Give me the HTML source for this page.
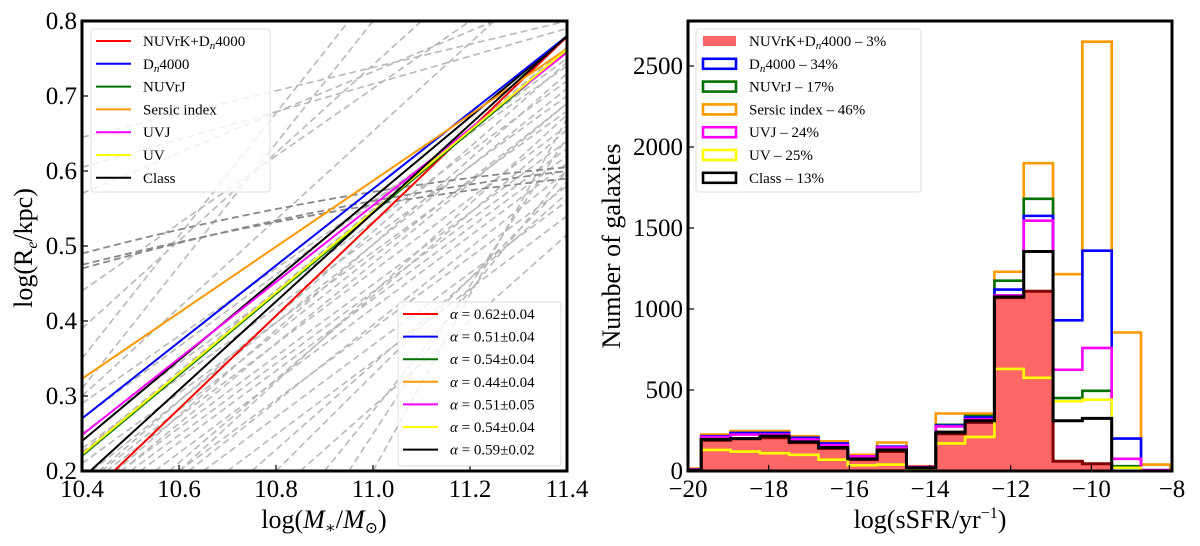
<!DOCTYPE html>
<html><head><meta charset="utf-8">
<style>
html,body{margin:0;padding:0;background:#fff;}
svg{display:block;font-family:"Liberation Serif","DejaVu Serif",serif;}
</style></head>
<body>
<svg id="fig" width="1200" height="546" viewBox="0 0 1200 546" xmlns="http://www.w3.org/2000/svg"></svg>
<script>
// ---- Left panel data ----
const fitNames = ["NUVrK+Dn4000","Dn4000","NUVrJ","Sersic index","UVJ","UV","Class"];
const fitColors = ["#ff0000","#0000ff","#007000","#ff9900","#ff00ff","#ffff00","#000000"];
const fitAlpha = [0.62,0.51,0.54,0.44,0.51,0.54,0.59];
const fitAlphaErr = ["0.04","0.04","0.04","0.04","0.05","0.04","0.02"];
const fitAt11p4 = [0.779,0.780,0.760,0.763,0.758,0.762,0.780];
const extraBlackLeft = 0.24, extraBlackRight = 0.78;
// gray dashed individual relations: [x1,y1,x2,y2]
const grayLines = [
 [10.4,0.57,11.25,0.80],[10.4,0.605,11.4,0.79],[10.4,0.645,11.4,0.80],[10.4,0.31,11.0,0.80],
 [10.4,0.35,10.95,0.80],[10.4,0.30,11.25,0.80],[10.4,0.29,11.4,0.74],[10.4,0.25,11.4,0.72],
 [10.4,0.23,11.4,0.70],[10.4,0.21,11.4,0.68],[10.45,0.2,11.4,0.66],[10.5,0.2,11.4,0.63],
 [10.55,0.2,11.4,0.61],[10.6,0.2,11.4,0.58],[10.7,0.2,11.4,0.54],[10.85,0.2,11.4,0.515],
 [10.4,0.18,11.4,0.745],[10.4,0.16,11.4,0.73],[10.5,0.21,11.4,0.69],[10.42,0.2,11.4,0.71],
 [10.4,0.39,11.1,0.80],[10.4,0.44,11.2,0.80],[10.65,0.2,11.4,0.56],[10.75,0.2,11.4,0.57],
 [10.58,0.2,11.4,0.655],[10.48,0.2,11.4,0.64],[10.4,0.27,11.4,0.75],[10.9,0.2,11.4,0.60],
 [10.95,0.2,11.4,0.645],[11.0,0.2,11.4,0.67],[10.4,0.225,11.4,0.765],[10.6,0.2,11.4,0.675],
 [10.52,0.2,11.4,0.62],[10.62,0.2,11.4,0.60],[10.8,0.2,11.4,0.585],[10.44,0.2,11.4,0.69]
];
const darkCurves = [[0.49,0.575,0.605],[0.47,0.56,0.60],[0.475,0.555,0.59]];
const xTicksL = [10.4,10.6,10.8,11.0,11.2,11.4];
const xTickLabelsL = ["10.4","10.6","10.8","11.0","11.2","11.4"];
const yTicksL = [0.2,0.3,0.4,0.5,0.6,0.7,0.8];
const yTickLabelsL = ["0.2","0.3","0.4","0.5","0.6","0.7","0.8"];

// ---- Right panel data ----
const binStart = -20.4, binWidth = 0.727;
const histNames = ["Dn4000","NUVrJ","Sersic index","UVJ","UV","Class"];
const histPct = ["34%","17%","46%","24%","25%","13%"];
const histColors = ["#0000ff","#007000","#ff9900","#ff00ff","#ffff00","#000000"];
const histRed = [10,190,200,205,175,140,70,120,20,230,300,1070,1110,60,45,0,0];
const histBlue = [10,215,235,235,205,170,90,150,25,280,330,1120,1575,930,1360,200,5];
const histGreen = [10,210,230,230,200,165,90,140,25,285,340,1175,1680,450,495,30,5];
const histOrange = [15,225,247,247,215,183,100,176,30,355,355,1230,1900,1215,2650,855,40];
const histMagenta = [10,210,225,225,195,160,90,145,25,275,320,1085,1545,625,760,75,5];
const histYellow = [5,130,120,110,100,70,35,40,10,170,210,630,575,430,440,20,0];
const histBlack = [5,195,200,215,180,145,75,130,20,240,310,1075,1355,310,325,0,0];
const xTicksR = [-20,-18,-16,-14,-12,-10,-8];
const xTickLabelsR = ["\u221220","\u221218","\u221216","\u221214","\u221212","\u221210","\u22128"];
const yTicksR = [0,500,1000,1500,2000,2500];
const yTickLabelsR = ["0","500","1000","1500","2000","2500"];

const NS="http://www.w3.org/2000/svg";
const svg=document.getElementById('fig');
function mk(tag,attrs,parent,text){const e=document.createElementNS(NS,tag);for(const k in attrs)e.setAttribute(k,attrs[k]);if(text!==undefined)e.textContent=text;(parent||svg).appendChild(e);return e;}

const L={x0:82,x1:567,y0:21,y1:471};
const lx=v=>L.x0+(v-10.4)/(1.0)*(L.x1-L.x0);
const ly=v=>L.y1-(v-0.2)/0.6*(L.y1-L.y0);
const R={x0:688,x1:1172,y0:21,y1:471};
const rx=v=>R.x0+(v+20)/12*(R.x1-R.x0);
const ry=v=>R.y1-v/2778*(R.y1-R.y0);

const defs=mk('defs',{});
const cpL=mk('clipPath',{id:'cl'},defs);mk('rect',{x:L.x0,y:L.y0,width:L.x1-L.x0,height:L.y1-L.y0},cpL);
const cpR=mk('clipPath',{id:'cr'},defs);mk('rect',{x:R.x0,y:R.y0,width:R.x1-R.x0,height:R.y1-R.y0},cpR);

const gL=mk('g',{'clip-path':'url(#cl)'});


grayLines.forEach((s,i)=>{
  const l=mk('line',{x1:lx(s[0]),y1:ly(s[1]),x2:lx(s[2]),y2:ly(s[3]),stroke:'#b8b8b8','stroke-width':1.6,'stroke-dasharray':'7,4'},gL);
  
  
});
darkCurves.forEach((c,i)=>{
  const p=mk('path',{d:`M${lx(10.4)},${ly(c[0])} Q${lx(10.9)},${ly(c[1])} ${lx(11.4)},${ly(c[2])}`,fill:'none',stroke:'#888','stroke-width':1.8,'stroke-dasharray':'7,4'},gL);
  
  
});
const eb=mk('line',{x1:lx(10.4),y1:ly(extraBlackLeft),x2:lx(11.4),y2:ly(extraBlackRight),stroke:'#000','stroke-width':2},gL);


fitAlpha.forEach((a,i)=>{
  const yl=fitAt11p4[i]-a*1.0;
  const l=mk('line',{x1:lx(10.4),y1:ly(yl),x2:lx(11.4),y2:ly(fitAt11p4[i]),stroke:fitColors[i],'stroke-width':2},gL);
  
  
});

const gR=mk('g',{'clip-path':'url(#cr)'});


function stepPath(arr){let d=`M${rx(binStart)},${ry(0)}`;arr.forEach((v,i)=>{const a=binStart+i*binWidth,b=a+binWidth;d+=` L${rx(a)},${ry(v)} L${rx(b)},${ry(v)}`;});d+=` L${rx(binStart+arr.length*binWidth)},${ry(0)}`;return d;}
const fill=mk('path',{d:stepPath(histRed)+' Z',fill:'#ff6666',stroke:'#800000','stroke-width':3},gR);


const histSeries=[histBlue,histGreen,histOrange,histMagenta,histYellow,histBlack];
const order=[2,1,0,3,4,5];
order.forEach(i=>{
  const p=mk('path',{d:stepPath(histSeries[i]),fill:'none',stroke:histColors[i],'stroke-width':i==5?3:2.6},gR);
  
  
});

function axes(A,xt,xl,yt,yl,fx,fy,pfx){
  xt.forEach((v,i)=>{
    const t=mk('line',{x1:fx(v),y1:A.y1,x2:fx(v),y2:A.y1-6,stroke:'#000','stroke-width':1.2});
    
    const tt=mk('text',{x:fx(v),y:A.y1+26,'font-size':25,'text-anchor':'middle'},svg,xl[i]);
    
  });
  yt.forEach((v,i)=>{
    const t=mk('line',{x1:A.x0,y1:fy(v),x2:A.x0+6,y2:fy(v),stroke:'#000','stroke-width':1.2});
    
    const tt=mk('text',{x:A.x0-5,y:fy(v)+8,'font-size':25,'text-anchor':'end'},svg,yl[i]);
    
  });
  const f=mk('rect',{x:A.x0,y:A.y0,width:A.x1-A.x0,height:A.y1-A.y0,fill:'none',stroke:'#000','stroke-width':3});
  
}
axes(L,xTicksL,xTickLabelsL,yTicksL,yTickLabelsL,lx,ly,'left');
axes(R,xTicksR,xTickLabelsR,yTicksR,yTickLabelsR,rx,ry,'right');
</script>
<script>
(function(){
const NS="http://www.w3.org/2000/svg";const svg=document.getElementById('fig');
function mk(tag,attrs,parent,html){const e=document.createElementNS(NS,tag);for(const k in attrs)e.setAttribute(k,attrs[k]);if(html!==undefined)e.innerHTML=html;(parent||svg).appendChild(e);return e;}
let t=mk('text',{x:324,y:528,'font-size':26,'text-anchor':'middle'},svg,'log(<tspan font-style="italic">M</tspan><tspan font-size="16" dy="5">∗</tspan><tspan dy="-5">/</tspan><tspan font-style="italic">M</tspan><tspan font-size="16" dy="5">⊙</tspan><tspan dy="-5">)</tspan>');

t=mk('text',{x:0,y:0,'font-size':26,'text-anchor':'middle',transform:'translate(32,248) rotate(-90)'},svg,'log(R<tspan font-size="16" font-style="italic" dy="5">e</tspan><tspan dy="-5">/kpc)</tspan>');

t=mk('text',{x:930,y:528,'font-size':26,'text-anchor':'middle'},svg,'log(sSFR/yr<tspan font-size="16" dy="-10">−1</tspan><tspan dy="10">)</tspan>');

t=mk('text',{x:0,y:0,'font-size':26,'text-anchor':'middle',transform:'translate(620,246) rotate(-90)'},svg,'Number of galaxies');


const names=['NUVrK+D<tspan font-size="11" font-style="italic" dy="3">n</tspan><tspan dy="-3">4000</tspan>','D<tspan font-size="11" font-style="italic" dy="3">n</tspan><tspan dy="-3">4000</tspan>','NUVrJ','Sersic index','UVJ','UV','Class'];
const cols=["#ff0000","#0000ff","#007000","#ff9900","#ff00ff","#ffff00","#000000"];
const alph=['0.62±0.04','0.51±0.04','0.54±0.04','0.44±0.04','0.51±0.05','0.54±0.04','0.59±0.02'];
const pct=['3%','34%','17%','46%','24%','25%','13%'];
let b=mk('rect',{x:91,y:29,width:179,height:163,rx:3,fill:'#fff','fill-opacity':0.8,stroke:'#ddd'});

names.forEach((n,i)=>{const y=41+i*22.8;
 let l=mk('line',{x1:96,y1:y,x2:131,y2:y,stroke:cols[i],'stroke-width':2});
 
 let tx=mk('text',{x:143,y:y+5,'font-size':15},svg,n);
 });
b=mk('rect',{x:398,y:302,width:163,height:164,rx:3,fill:'#fff','fill-opacity':0.8,stroke:'#ddd'});

alph.forEach((a,i)=>{const y=314+i*22.6;
 let l=mk('line',{x1:403,y1:y,x2:438,y2:y,stroke:cols[i],'stroke-width':2});
 
 let tx=mk('text',{x:450,y:y+5,'font-size':15},svg,'<tspan font-style="italic">α</tspan> = '+a);
 });
b=mk('rect',{x:696,y:29,width:225,height:163,rx:3,fill:'#fff','fill-opacity':0.8,stroke:'#ddd'});

names.forEach((n,i)=>{const y=41+i*22.8;
 let r=mk('rect',{x:703,y:y-5,width:33,height:10,fill:i==0?'#ff6666':'none',stroke:i==0?'none':cols[i],'stroke-width':2.6});
 
 let tx=mk('text',{x:749,y:y+5,'font-size':15},svg,n+'  –  '+pct[i]);
 });
})();
</script>
</body></html>
